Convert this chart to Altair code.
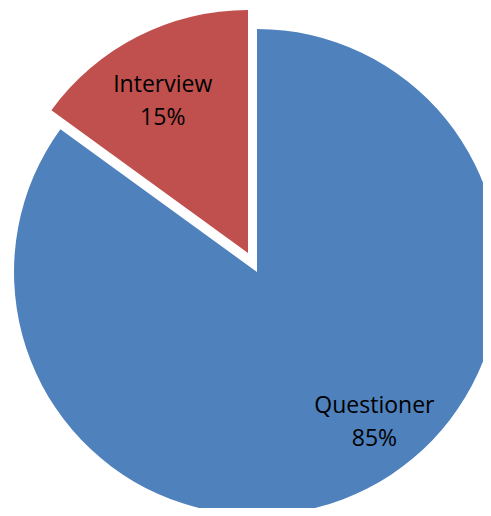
import altair as alt
import pandas as pd

categories = ["Questioner", "Interview"]
shares = [85, 15]
pct_labels = ["85%", "15%"]
colors = ["#4F81BD", "#C0504D"]
# label angle (in share units, 0-100 round the circle) and label radius
label_pos = [39.4, 91.9]
label_radius = [190, 175]
# slice centres (pie centre, and exploded slice centre)
centre_x = [249, 240]
centre_y = [264, 245]

ends = pd.Series(shares).cumsum()
starts = ends - pd.Series(shares)
df = pd.DataFrame({
    "cat": categories,
    "share": shares,
    "start": starts,
    "end": ends,
    "label": [f"{c}\n{p}" for c, p in zip(categories, pct_labels)],
    "lpos": label_pos,
    "lrad": label_radius,
    "cx": centre_x,
    "cy": centre_y,
})

theta_scale = alt.Scale(domain=[0, 100], range=[0, 6.283185307179586])
color_scale = alt.Scale(domain=categories, range=colors)

arcs = alt.Chart(df).mark_arc(outerRadius=243, stroke=None).encode(
    theta=alt.Theta("start:Q", scale=theta_scale),
    theta2="end:Q",
    x=alt.X("cx:Q", scale=None),
    y=alt.Y("cy:Q", scale=None),
    color=alt.Color("cat:N", scale=color_scale, legend=None),
)

texts = alt.Chart(df).mark_text(
    font="Open Sans", fontSize=23, color="#000000", align="center",
    baseline="middle", lineBreak="\n", lineHeight=33, dy=-15,
).encode(
    theta=alt.Theta("lpos:Q", scale=theta_scale),
    radius=alt.Radius("lrad:Q", scale=None),
    x=alt.X("cx:Q", scale=None),
    y=alt.Y("cy:Q", scale=None),
    text="label:N",
)

chart = alt.layer(arcs, texts).properties(
    width=475, height=500, autosize=alt.AutoSizeParams(type="none"), padding=0,
).configure_view(stroke=None)

chart.save("out.html", embed_options={"renderer": "svg", "actions": False})
